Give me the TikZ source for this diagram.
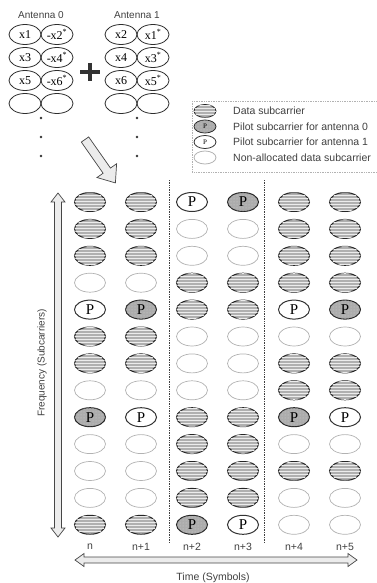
\documentclass[tikz,border=0pt]{standalone}
\usepackage{fontspec}
\setmainfont{Liberation Serif}
\newfontfamily\sansf{Liberation Sans}
\usetikzlibrary{shapes.geometric,patterns}
\def\txtD{}\def\txtE{}\def\txtG{P}\def\txtW{P}
\begin{document}
\begin{tikzpicture}[x=1pt,y=-1pt,
  fD/.style={draw=gray!30!black, fill=gray!62, postaction={pattern=horizontal lines, pattern color=gray!15}},
  fG/.style={draw=gray!30!black, fill=gray!65, postaction={pattern=dots, pattern color=gray!35}},
  fW/.style={draw=black!80, fill=white},
  fE/.style={draw=gray!60, fill=white},
  cell/.style={ellipse, minimum width=31pt, minimum height=19pt, inner sep=0pt, line width=1pt, font=\fontsize{15}{15}\selectfont},
  cellD/.style={cell,fD}, cellG/.style={cell,fG}, cellW/.style={cell,fW}, cellE/.style={cell,fE,line width=0.7pt},
  kind/.style={cell#1},
  leg/.style={ellipse, minimum width=22pt, minimum height=13pt, inner sep=0pt, line width=0.8pt, font=\fontsize{7}{7}\selectfont},
  ant/.style={ellipse, draw=gray!35!black, line width=0.8pt, minimum width=32pt, minimum height=20pt, inner sep=0pt, font=\fontsize{12}{12}\selectfont},
  lab/.style={font=\sansf\fontsize{10.5}{12}\selectfont, text=black!75, inner sep=0pt},
  arrowsh/.style={draw=gray!55!black, line width=0.7pt, fill=gray!15},
  sep/.style={draw=gray!50!black, line width=0.7pt, densely dotted},
  dotm/.style={fill=black!80}
]
\useasboundingbox (0,0) rectangle (376,583);

% antenna groups
\node[lab, font=\sansf\fontsize{10}{12}\selectfont] (a0) at (41,15) {Antenna 0};
\node[lab, font=\sansf\fontsize{10}{12}\selectfont] (a1) at (137,15) {Antenna 1};
\foreach \l/\r [count=\j] in {x1/-x2\textsuperscript{*}, x3/-x4\textsuperscript{*}, x5/-x6\textsuperscript{*}, /}{
  \node[ant] (p\j-1) at (25,{34.5+23*(\j-1)}) {\l};
  \node[ant] (p\j-2) at (57,{34.5+23*(\j-1)}) {\r};
}
\foreach \l/\r [count=\j] in {x2/x1\textsuperscript{*}, x4/x3\textsuperscript{*}, x6/x5\textsuperscript{*}, /}{
  \node[ant] (q\j-1) at (121,{34.5+23*(\j-1)}) {\l};
  \node[ant] (q\j-2) at (153,{34.5+23*(\j-1)}) {\r};
}
\foreach \yy in {118,137,156}{
  \fill[dotm] (41,\yy) circle[radius=1.3pt];
  \fill[dotm] (137,\yy) circle[radius=1.3pt];
}
% plus sign
\draw[line width=3.5pt, gray!40!black] (80,72) -- (100,72) (90,63) -- (90,81);

% diagonal hollow arrow
\begin{scope}[shift={(85,139.5)}, rotate=-55]
  \draw[arrowsh] (0,-4.5) -- (38,-4.5) -- (38,-12) -- (53,0) -- (38,12) -- (38,4.5) -- (0,4.5) -- cycle;
\end{scope}

% legend
\draw[draw=gray!60, line width=0.7pt, densely dotted] (192,101) rectangle (379,172);
\node[leg,fD] (l1) at (205,111) {};
\node[leg,fG] (l2) at (205,126.5) {P};
\node[leg,fW] (l3) at (205,142) {P};
\node[leg,fE] (l4) at (205,157.5) {};
\node[lab, anchor=west] (lt1) at (233,111) {Data subcarrier};
\node[lab, anchor=west] (lt2) at (233,126.5) {Pilot subcarrier for antenna 0};
\node[lab, anchor=west] (lt3) at (233,142) {Pilot subcarrier for antenna 1};
\node[lab, anchor=west] (lt4) at (233,157.5) {Non-allocated data subcarrier};

% separators
\draw[sep] (169,180) -- (169,543);
\draw[sep] (264,180) -- (264,543);

% grid of subcarriers
\foreach \row [count=\j] in {{D,D,W,G,D,D},{D,D,E,E,D,D},{D,D,E,E,D,D},{E,E,D,D,D,D},{W,G,D,D,W,G},{D,D,E,E,E,E},{D,D,E,E,D,D},{E,E,E,E,D,D},{G,W,D,D,G,W},{E,E,D,D,E,E},{E,E,D,D,D,D},{E,E,D,D,E,E},{D,D,G,W,E,E}}{
  \foreach \t [count=\i] in \row {
    \node[kind/.expanded=\t] (c\j-\i) at ({90+51*(\i-1)},{202+26.9*(\j-1)}) {\csname txt\t\endcsname};
  }
}

% column labels
\foreach \l [count=\i] in {n,n+1,n+2,n+3,n+4,n+5}{
  \node[lab] (t\i) at ({90+51*(\i-1)},547) {\l};
}

% frequency arrow
\draw[arrowsh] (58,193) -- (65,202) -- (61.5,202) -- (61.5,528) -- (65,528) -- (58,537) -- (51,528) -- (54.5,528) -- (54.5,202) -- (51,202) -- cycle;
\node[lab, rotate=90, font=\sansf\fontsize{10}{12}\selectfont] (fl) at (42,363) {Frequency (Subcarriers)};

% time arrow
\draw[arrowsh] (75,560) -- (84,553.5) -- (84,557) -- (348,557) -- (348,553.5) -- (357,560) -- (348,566.5) -- (348,563) -- (84,563) -- (84,566.5) -- cycle;
\node[lab] (tl) at (213,578) {Time (Symbols)};
\end{tikzpicture}
\end{document}
